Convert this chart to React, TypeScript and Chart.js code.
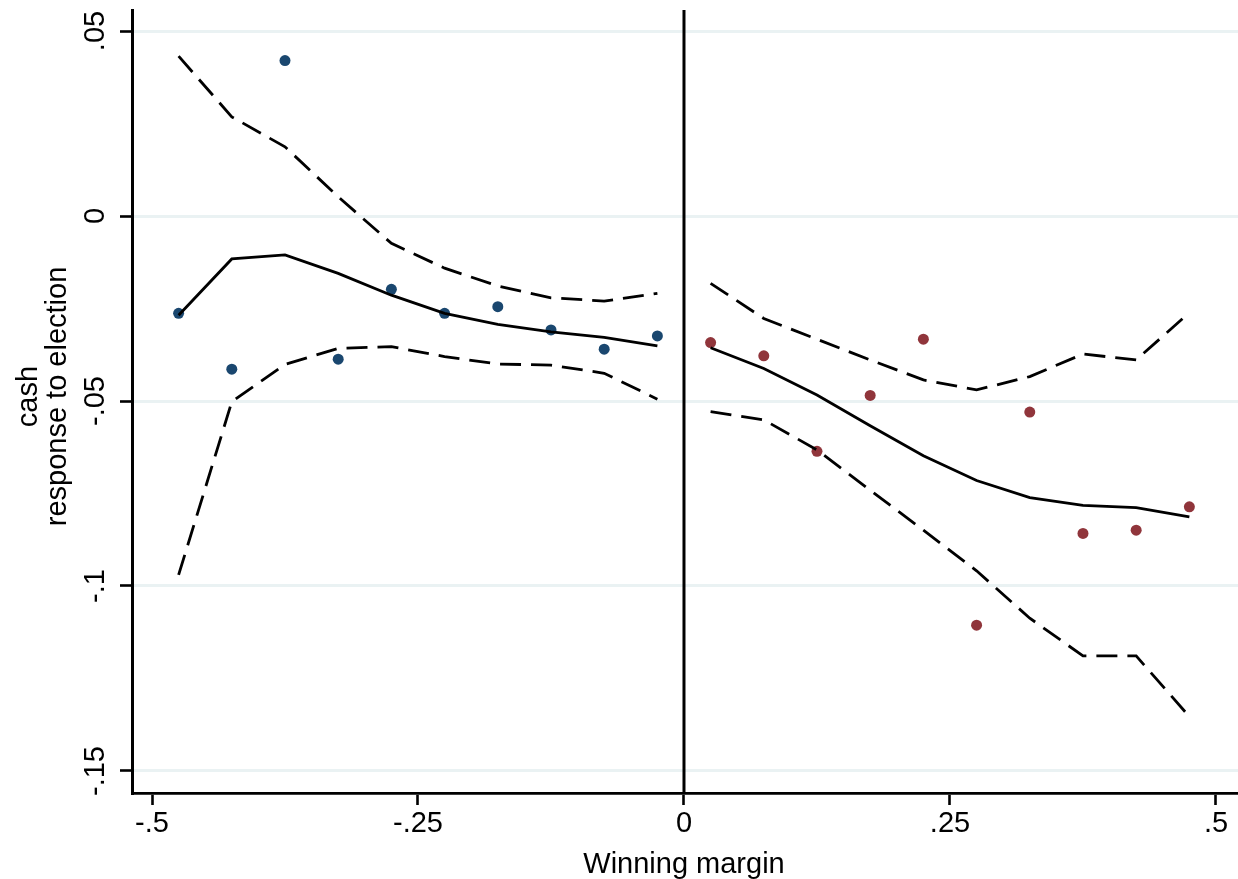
import React, { useEffect, useRef } from "react";
import { Chart, registerables } from "chart.js";

Chart.register(...registerables);

// ---- Axis ticks ----
const xTickValues = [-0.5, -0.25, 0, 0.25, 0.5];
const xTickLabels = ["-.5", "-.25", "0", ".25", ".5"];
const yTickValues = [0.05, 0, -0.05, -0.1, -0.15];
const yTickLabels = [".05", "0", "-.05", "-.1", "-.15"];

const xMin = -0.5188;
const xMax = 0.5207;
const yMin = -0.15595;
const yMax = 0.05568;

// ---- Left side (losers) ----
const leftX = [-0.475, -0.425, -0.375, -0.325, -0.275, -0.225, -0.175, -0.125, -0.075, -0.025];
const leftPoints = [-0.0263, -0.0414, 0.042, -0.0387, -0.0198, -0.0263, -0.0245, -0.0308, -0.036, -0.0324];
const leftFit = [-0.0268, -0.0116, -0.0105, -0.0155, -0.0214, -0.0263, -0.0293, -0.0313, -0.0328, -0.0351];
const leftUpper = [0.0432, 0.0268, 0.0187, 0.0052, -0.0074, -0.0141, -0.0189, -0.0221, -0.023, -0.0209];
const leftLower = [-0.097, -0.0502, -0.0401, -0.0358, -0.0353, -0.038, -0.04, -0.0403, -0.0425, -0.0495];

// ---- Right side (winners) ----
const rightX = [0.025, 0.075, 0.125, 0.175, 0.225, 0.275, 0.325, 0.375, 0.425, 0.475];
const rightPoints = [-0.0342, -0.0378, -0.0636, -0.0485, -0.0333, -0.1106, -0.053, -0.0858, -0.0849, -0.0786];
const rightFit = [-0.0356, -0.0412, -0.0484, -0.0567, -0.0648, -0.0715, -0.0761, -0.0782, -0.0788, -0.0813];
const rightUpper = [-0.0182, -0.0277, -0.0333, -0.0389, -0.0443, -0.047, -0.0434, -0.0373, -0.0389, -0.0261];
const rightLower = [-0.0529, -0.0551, -0.0632, -0.0741, -0.0849, -0.0959, -0.1087, -0.1189, -0.1189, -0.1353];

const xTitle = "Winning margin";
const yTitleLines = ["cash", "response to election"];

const NAVY = "#1a476f";
const MAROON = "#90353b";
const GRID = "#eaf2f3";
const FONT = '29px "Liberation Sans", Arial, Helvetica, sans-serif';

const toXY = (xs: number[], ys: number[]) => xs.map((x, i) => ({ x, y: ys[i] }));

const textPlugin = {
  id: "stataText",
  afterDraw(chart: any) {
    const ctx = chart.ctx;
    const xs = chart.scales.x;
    const ys = chart.scales.y;
    const area = chart.chartArea;
    ctx.save();
    ctx.fillStyle = "#000";
    ctx.font = FONT;
    ctx.textAlign = "center";
    ctx.textBaseline = "alphabetic";
    xTickValues.forEach((v, i) => {
      ctx.fillText(xTickLabels[i], xs.getPixelForValue(v), 832);
    });
    yTickValues.forEach((v, i) => {
      ctx.save();
      ctx.translate(104, ys.getPixelForValue(v));
      ctx.rotate(-Math.PI / 2);
      ctx.fillText(yTickLabels[i], 0, 0);
      ctx.restore();
    });
    ctx.fillText(xTitle, xs.getPixelForValue(0), 873);
    const cy = (area.top + area.bottom) / 2 - 5;
    const baselines = [37, 66];
    yTitleLines.forEach((t, i) => {
      ctx.save();
      ctx.translate(baselines[i], cy);
      ctx.rotate(-Math.PI / 2);
      ctx.fillText(t, 0, 0);
      ctx.restore();
    });
    ctx.restore();
  },
};

export default function App() {
  const ref = useRef<HTMLCanvasElement | null>(null);

  useEffect(() => {
    if (!ref.current) return;
    const lineDs = (data: any[], dashed: boolean, order: number) => ({
      type: "scatter" as const,
      data,
      showLine: true,
      borderColor: "#000",
      borderWidth: 2.8,
      borderDash: dashed ? [21, 10] : [],
      pointRadius: 0,
      pointHoverRadius: 0,
      fill: false,
      tension: 0,
      order,
    });
    const chart = new Chart(ref.current, {
      type: "scatter",
      data: {
        datasets: [
          {
            data: toXY(leftX, leftPoints),
            backgroundColor: NAVY,
            borderWidth: 0,
            pointRadius: 5.5,
            showLine: false,
            order: 5,
          },
          {
            data: toXY(rightX, rightPoints),
            backgroundColor: MAROON,
            borderWidth: 0,
            pointRadius: 5.5,
            showLine: false,
            order: 5,
          },
          lineDs(toXY(leftX, leftFit), false, 1),
          lineDs(toXY(leftX, leftUpper), true, 2),
          lineDs(toXY(leftX, leftLower), true, 2),
          lineDs(toXY(rightX, rightFit), false, 1),
          lineDs(toXY(rightX, rightUpper), true, 2),
          lineDs(toXY(rightX, rightLower), true, 2),
          {
            ...lineDs([{ x: 0, y: yMax }, { x: 0, y: yMin }], false, 0),
            borderWidth: 3,
          },
        ] as any,
      },
      options: {
        responsive: false,
        animation: false,
        devicePixelRatio: 1,
        layout: { autoPadding: false, padding: { top: 10, left: 0, right: 0, bottom: 0 } },
        plugins: {
          legend: { display: false },
          tooltip: { enabled: false },
        },
        events: [],
        scales: {
          x: {
            type: "linear",
            min: xMin,
            max: xMax,
            afterBuildTicks: (s: any) => {
              s.ticks = xTickValues.map((value) => ({ value }));
            },
            afterFit: (s: any) => {
              s.height = 86;
            },
            ticks: { display: false },
            grid: {
              display: true,
              drawOnChartArea: false,
              drawTicks: true,
              tickLength: 12,
              tickColor: "#000",
              tickWidth: 2.6,
            },
            border: { display: true, color: "#000", width: 2.8 },
          },
          y: {
            type: "linear",
            min: yMin,
            max: yMax,
            afterBuildTicks: (s: any) => {
              s.ticks = yTickValues.map((value) => ({ value }));
            },
            afterFit: (s: any) => {
              s.width = 132;
            },
            ticks: { display: false },
            grid: {
              display: true,
              color: GRID,
              lineWidth: 3,
              drawTicks: true,
              tickLength: 12,
              tickColor: "#000",
              tickWidth: 2.6,
            },
            border: { display: true, color: "#000", width: 3 },
          },
        },
      } as any,
      plugins: [textPlugin],
    });
    return () => chart.destroy();
  }, []);

  return (
    <div style={{ position: "absolute", left: 0, top: 0, width: 1238, height: 879, background: "#fff" }}>
      <canvas ref={ref} width={1238} height={879} style={{ display: "block" }} />
    </div>
  );
}
